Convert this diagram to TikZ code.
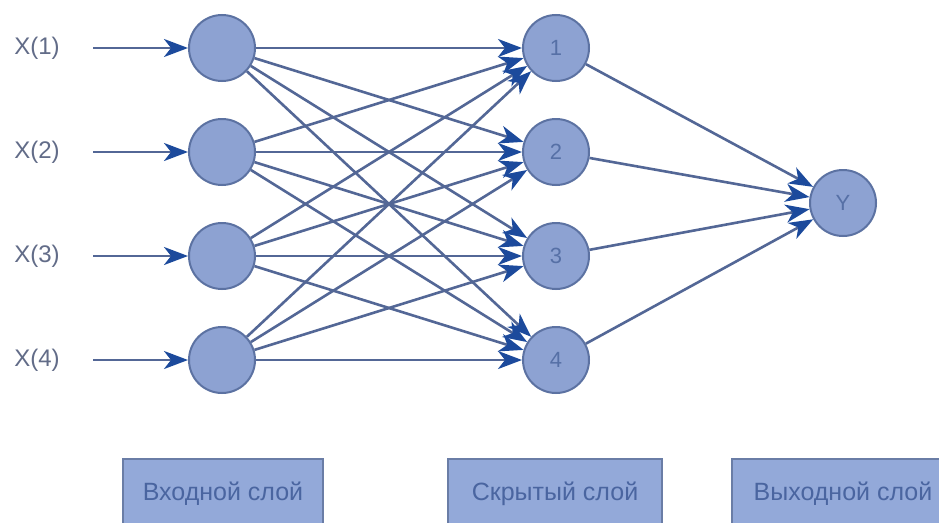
\documentclass[tikz,border=0pt]{standalone}
\usepackage{fontspec}
\setmainfont{Liberation Sans}
\usetikzlibrary{arrows.meta}
\definecolor{nodefill}{HTML}{8DA2D2}
\definecolor{nodeline}{HTML}{5C72A2}
\definecolor{edgecol}{HTML}{536796}
\definecolor{tipcol}{HTML}{1C4A9C}
\definecolor{labcol}{HTML}{626C88}
\definecolor{numcol}{HTML}{5670A6}
\definecolor{boxfill}{HTML}{93A9D9}
\definecolor{boxline}{HTML}{6A7DA6}
\definecolor{boxtext}{HTML}{4A65A0}
\tikzset{
  neuron/.style={circle, draw=nodeline, line width=2pt, fill=nodefill, minimum size=66pt, inner sep=0pt,
    font=\fontsize{22}{22}\selectfont, text=numcol},
  inlabel/.style={font=\fontsize{24}{24}\selectfont, text=labcol, inner sep=0pt},
  layerbox/.style={draw=boxline, line width=2pt, fill=boxfill, minimum height=70pt, inner sep=0pt,
    font=\fontsize{25}{25}\selectfont, text=boxtext},
  conn/.style={draw=edgecol, line width=2.6pt, -{Stealth[length=24pt,width=18pt,inset=7pt,color=tipcol]}},
}
\begin{document}
\begin{tikzpicture}[x=1pt,y=-1pt]
\useasboundingbox (0,0) rectangle (939,522);
\clip (0,0) rectangle (939,522);
\fill[white] (0,0) rectangle (939,522);
% input labels and start points
\foreach \i/\yy in {1/48,2/152,3/256,4/360}{
  \node[inlabel] (x\i) at (37,\yy) {X(\i)};
  \coordinate (s\i) at (93,\yy);
}
% layers
\foreach \i/\yy in {1/48,2/152,3/256,4/360}{
  \node[neuron] (i\i) at (222,\yy) {};
}
\foreach \i/\yy in {1/48,2/152,3/256,4/360}{
  \node[neuron] (h\i) at (556,\yy) {\i};
}
\node[neuron] (y) at (843,203) {Y};
% connections
\foreach \i in {1,...,4}{
  \draw[conn] (s\i) -- (i\i);
}
\foreach \i in {1,...,4}{
  \foreach \j in {1,...,4}{
    \draw[conn] (i\i) -- (h\j);
  }
}
\foreach \j in {1,...,4}{
  \draw[conn] (h\j) -- (y);
}
% layer boxes
\node[layerbox, minimum width=200pt] (b1) at (223,494) {Входной слой};
\node[layerbox, minimum width=214pt] (b2) at (555,494) {Скрытый слой};
\node[layerbox, minimum width=222pt] (b3) at (843,494) {Выходной слой};
\end{tikzpicture}
\end{document}
